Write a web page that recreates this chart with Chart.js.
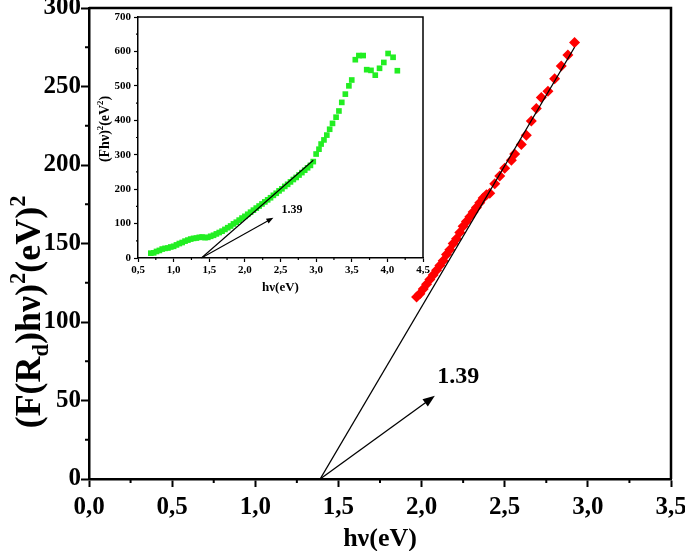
<!DOCTYPE html>
<html>
<head>
<meta charset="utf-8">
<script src="https://cdn.jsdelivr.net/npm/chart.js@4.4.1/dist/chart.umd.min.js"></script>
<style>
  html, body { margin: 0; padding: 0; background: #fff; }
  #wrap { position: relative; width: 685px; height: 551px; }
  #mainChart { position: absolute; left: 0; top: 0; }
  #insetChart { position: absolute; left: 95px; top: 5px; }
</style>
</head>
<body>
<div id="wrap">
  <canvas id="mainChart" width="685" height="551"></canvas>
  <canvas id="insetChart" width="345" height="297"></canvas>
</div>
<script>
// main plot, red diamonds
var redX = [1.97, 1.99, 2.01, 2.03, 2.05, 2.07, 2.09, 2.11, 2.13, 2.15, 2.17, 2.19, 2.21, 2.23, 2.25, 2.27, 2.29, 2.31, 2.33, 2.35, 2.37, 2.39,
            2.41, 2.44, 2.47, 2.50, 2.54, 2.56, 2.60, 2.63, 2.66, 2.69, 2.72, 2.76, 2.80, 2.84, 2.88, 2.92];
var redY = [116, 118, 121, 124, 127, 130, 133, 136, 139, 143, 146, 150, 153, 157, 161, 164, 167, 170, 173, 176, 179, 181,
            182, 188, 193, 198, 203, 207, 213, 219, 228, 236, 243, 247, 255, 263, 270, 278];

// inset, green squares
var greenX = [0.68, 0.72, 0.76, 0.80, 0.84, 0.88, 0.92, 0.96, 1.00, 1.04, 1.08, 1.12, 1.16, 1.20, 1.24, 1.28, 1.32, 1.36, 1.40, 1.44,
              1.48, 1.52, 1.56, 1.60, 1.64, 1.68, 1.72, 1.76, 1.80, 1.84, 1.88, 1.92, 1.96, 2.00, 2.04, 2.08, 2.12, 2.16, 2.20, 2.24,
              2.28, 2.32, 2.36, 2.40, 2.44, 2.48, 2.52, 2.56, 2.60, 2.64, 2.68, 2.72, 2.76, 2.80, 2.84, 2.88, 2.92, 2.96,
              3.00, 3.04, 3.07, 3.11, 3.15, 3.19, 3.23, 3.28, 3.32, 3.36, 3.41, 3.46, 3.50, 3.55, 3.60, 3.66, 3.71, 3.77, 3.83, 3.89,
              3.95, 4.01, 4.08, 4.14];
var greenY = [14, 15, 19, 22, 26, 28, 29, 32, 34, 38, 42, 45, 49, 52, 55, 57, 58, 60, 61, 59,
              60, 63, 66, 70, 74, 78, 83, 88, 93, 99, 104, 110, 116, 121, 127, 133, 139, 145, 151, 157,
              163, 169, 175, 182, 188, 195, 201, 208, 214, 221, 228, 234, 241, 248, 255, 262, 269, 280,
              302, 316, 331, 343, 357, 374, 391, 409, 427, 452, 476, 500, 517, 576, 588, 588, 547, 545, 531, 551,
              568, 594, 583, 544];

// linear fits crossing zero at 1.39
var mainFitX = [1.39, 2.92];
var mainFitY = [0, 275];
var insetFitX = [1.39, 2.96];
var insetFitY = [0, 284];

// arrows to the intercept, and their labels
var mainArrowX = [1.39, 2.08];
var mainArrowY = [0, 53];
var mainNote = [2.22, 65, '1.39'];
var insetArrowX = [1.39, 2.40];
var insetArrowY = [0, 117];
var insetNote = [2.66, 141, '1.39'];

// tick labels
var mainXTicks = ['0,0', '0,5', '1,0', '1,5', '2,0', '2,5', '3,0', '3,5'];
var mainYTicks = ['0', '50', '100', '150', '200', '250', '300'];
var insetXTicks = ['0,5', '1,0', '1,5', '2,0', '2,5', '3,0', '3,5', '4,0', '4,5'];
var insetYTicks = ['0', '100', '200', '300', '400', '500', '600', '700'];

var serif = "'Liberation Serif', 'Times New Roman', serif";

function onStep(v, step, base) {
    var k = (v - base) / step;
    return Math.abs(k - Math.round(k)) < 1e-6;
}

function pts(xs, ys) {
    return xs.map(function (x, i) { return { x: x, y: ys[i] }; });
}

// text with sub/superscripts, centred on (cx, cy)
function drawRich(ctx, runs, cx, cy, size, rot) {
    ctx.save();
    ctx.translate(cx, cy);
    ctx.rotate(rot);
    ctx.fillStyle = '#000';
    ctx.textBaseline = 'alphabetic';
    ctx.textAlign = 'left';
    var total = 0;
    runs.forEach(function (r) {
        r.size = r.s ? size * 0.62 : size;
        ctx.font = 'bold ' + r.size + 'px ' + serif;
        r.w = ctx.measureText(r.t).width;
        total += r.w;
    });
    var x = -total / 2;
    runs.forEach(function (r) {
        ctx.font = 'bold ' + r.size + 'px ' + serif;
        var dy = size * 0.33;
        if (r.s === 'sub') dy += size * 0.22;
        if (r.s === 'sup') dy -= size * 0.42;
        ctx.fillText(r.t, x, dy);
        x += r.w;
    });
    ctx.restore();
}

// frame, minor ticks, arrow and label
function makeDeco(o) {
    return {
        id: 'deco',
        afterDraw: function (chart) {
            var ctx = chart.ctx, a = chart.chartArea;
            var sx = chart.scales.x, sy = chart.scales.y;
            ctx.save();
            ctx.strokeStyle = '#000';
            ctx.lineWidth = o.frame;
            ctx.beginPath();
            ctx.moveTo(a.left, a.top);
            ctx.lineTo(a.right, a.top);
            ctx.lineTo(a.right, a.bottom);
            ctx.stroke();

            ctx.lineWidth = o.tickW;
            ctx.beginPath();
            sx.ticks.forEach(function (t) {
                if (onStep(t.value, o.xMajor, o.xBase)) return;
                var p = sx.getPixelForValue(t.value);
                ctx.moveTo(p, a.bottom);
                ctx.lineTo(p, a.bottom + o.minor);
            });
            sy.ticks.forEach(function (t) {
                if (onStep(t.value, o.yMajor, 0)) return;
                var p = sy.getPixelForValue(t.value);
                ctx.moveTo(a.left, p);
                ctx.lineTo(a.left - o.minor, p);
            });
            ctx.stroke();

            // arrow
            var x0 = sx.getPixelForValue(o.ax[0]), y0 = sy.getPixelForValue(o.ay[0]);
            var x1 = sx.getPixelForValue(o.ax[1]), y1 = sy.getPixelForValue(o.ay[1]);
            var ang = Math.atan2(y1 - y0, x1 - x0);
            ctx.lineWidth = o.arrowW;
            ctx.beginPath();
            ctx.moveTo(x0, y0);
            ctx.lineTo(x1 - Math.cos(ang) * o.head * 0.8, y1 - Math.sin(ang) * o.head * 0.8);
            ctx.stroke();
            ctx.fillStyle = '#000';
            ctx.beginPath();
            ctx.moveTo(x1, y1);
            ctx.lineTo(x1 - Math.cos(ang) * o.head + Math.sin(ang) * o.head * 0.38,
                       y1 - Math.sin(ang) * o.head - Math.cos(ang) * o.head * 0.38);
            ctx.lineTo(x1 - Math.cos(ang) * o.head - Math.sin(ang) * o.head * 0.38,
                       y1 - Math.sin(ang) * o.head + Math.cos(ang) * o.head * 0.38);
            ctx.closePath();
            ctx.fill();

            ctx.font = 'bold ' + o.noteSize + 'px ' + serif;
            ctx.textAlign = 'center';
            ctx.textBaseline = 'middle';
            ctx.fillText(o.note[2], sx.getPixelForValue(o.note[0]), sy.getPixelForValue(o.note[1]));
            ctx.restore();

            drawRich(ctx, o.title, o.titlePos[0], o.titlePos[1], o.titleSize, -Math.PI / 2);
        }
    };
}

function axisX(min, max, step, major, base, labels, size, tick, pad, titleSize, titlePad, h, bw) {
    return {
        type: 'linear', min: min, max: max,
        afterFit: function (s) { s.height = h; s.paddingLeft = 0; s.paddingRight = 0; },
        border: { color: '#000', width: bw },
        grid: {
            drawOnChartArea: false, tickLength: tick, tickWidth: bw * 0.8,
            tickColor: function (c) { return c.tick && onStep(c.tick.value, major, base) ? '#000' : 'rgba(0,0,0,0)'; }
        },
        ticks: {
            stepSize: step, autoSkip: false, maxRotation: 0, padding: pad, color: '#000',
            font: { family: serif, size: size, weight: 'bold' },
            callback: function (v) { return onStep(v, major, base) ? labels[Math.round((v - base) / major)] : ''; }
        },
        title: { display: true, text: 'hν(eV)', color: '#000', padding: { top: 0, bottom: titlePad },
                 font: { family: serif, size: titleSize, weight: 'bold' } }
    };
}

function axisY(max, step, major, labels, size, tick, pad, w, bw) {
    return {
        type: 'linear', min: 0, max: max,
        afterFit: function (s) { s.width = w; s.paddingTop = 0; s.paddingBottom = 0; },
        border: { color: '#000', width: bw },
        grid: {
            drawOnChartArea: false, tickLength: tick, tickWidth: bw * 0.8,
            tickColor: function (c) { return c.tick && onStep(c.tick.value, major, 0) ? '#000' : 'rgba(0,0,0,0)'; }
        },
        ticks: {
            stepSize: step, autoSkip: false, padding: pad, color: '#000',
            font: { family: serif, size: size, weight: 'bold' },
            callback: function (v) { return onStep(v, major, 0) ? labels[Math.round(v / major)] : ''; }
        }
    };
}

var noPlugins = { legend: { display: false }, tooltip: { enabled: false } };

new Chart(document.getElementById('mainChart'), {
    type: 'scatter',
    data: {
        datasets: [{
            type: 'line', data: pts(mainFitX, mainFitY), borderColor: '#000', borderWidth: 1.3,
            pointRadius: 0, fill: false
        }, {
            data: pts(redX, redY), pointStyle: 'rectRot', pointRadius: 5.5,
            backgroundColor: '#ff0000', borderColor: '#ff0000', borderWidth: 0
        }]
    },
    options: {
        responsive: false, animation: false,
        layout: { padding: { top: 8, right: 14, left: 0, bottom: 0 } },
        plugins: noPlugins,
        scales: {
            x: axisX(0, 3.5, 0.25, 0.5, 0, mainXTicks, 25, 8, 6, 26, -4, 72, 2.5),
            y: axisY(300, 25, 50, mainYTicks, 25, 8, 0, 89, 2.5)
        }
    },
    plugins: [makeDeco({
        frame: 2.5, tickW: 2, minor: 4, xMajor: 0.5, xBase: 0, yMajor: 50,
        ax: mainArrowX, ay: mainArrowY, arrowW: 1.3, head: 12, note: mainNote, noteSize: 24,
        title: [{ t: '(F(R' }, { t: 'd', s: 'sub' }, { t: ')hν)' }, { t: '2', s: 'sup' }, { t: '(eV)' }, { t: '2', s: 'sup' }],
        titlePos: [28, 312], titleSize: 36
    })]
});

new Chart(document.getElementById('insetChart'), {
    type: 'scatter',
    data: {
        datasets: [{
            type: 'line', data: pts(insetFitX, insetFitY), borderColor: '#000', borderWidth: 1.2,
            pointRadius: 0, fill: false
        }, {
            data: pts(greenX, greenY), pointStyle: 'rect', pointRadius: 4,
            backgroundColor: '#22ee22', borderColor: '#22ee22', borderWidth: 0
        }]
    },
    options: {
        responsive: false, animation: false,
        layout: { padding: { top: 12, right: 17, left: 0, bottom: 0 } },
        plugins: noPlugins,
        scales: {
            x: axisX(0.5, 4.5, 0.25, 0.5, 0.5, insetXTicks, 11, 4, 2, 13, 7, 44, 1.5),
            y: axisY(700, 50, 100, insetYTicks, 11, 4, 3, 43, 1.5)
        }
    },
    plugins: [makeDeco({
        frame: 1.5, tickW: 1.2, minor: 2, xMajor: 0.5, xBase: 0.5, yMajor: 100,
        ax: insetArrowX, ay: insetArrowY, arrowW: 1.1, head: 7, note: insetNote, noteSize: 12,
        title: [{ t: '(Fhν)' }, { t: '2', s: 'sup' }, { t: '(eV' }, { t: '2', s: 'sup' }, { t: ')' }],
        titlePos: [9, 124], titleSize: 14
    })]
});
</script>
</body>
</html>
